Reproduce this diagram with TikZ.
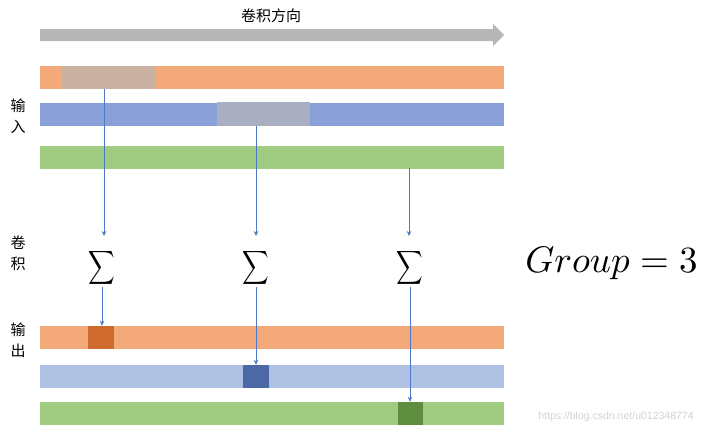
\documentclass[tikz,border=0pt]{standalone}
\usepackage{amsmath}
\usepackage{fontspec}
\newfontfamily\cjk{Noto Sans CJK SC}
\newfontfamily\wmfont{Liberation Sans}
\usetikzlibrary{arrows.meta}
\definecolor{orangebar}{HTML}{F4A97A}
\definecolor{orangewin}{HTML}{C9B2A1}
\definecolor{bluebar}{HTML}{89A1D8}
\definecolor{bluewin}{HTML}{A9AEC0}
\definecolor{greenbar}{HTML}{A0CC81}
\definecolor{bluelight}{HTML}{AEC1E3}
\definecolor{orangedark}{HTML}{CF6A2E}
\definecolor{bluedark}{HTML}{4D69A5}
\definecolor{greendark}{HTML}{5F8D40}
\definecolor{arrowgrey}{HTML}{B6B6B6}
\definecolor{linkblue}{HTML}{4F78C6}
\definecolor{wmgrey}{HTML}{D2D2D2}
\begin{document}
\begin{tikzpicture}[x=1pt,y=-1pt,
  bar/.style={rectangle,draw=none,inner sep=0pt,minimum width=464pt,minimum height=23pt},
  win/.style={rectangle,draw=none,inner sep=0pt,minimum height=23pt},
  cell/.style={rectangle,draw=none,inner sep=0pt,minimum width=26pt,minimum height=23pt},
  lab/.style={font=\cjk\fontsize{15}{21}\selectfont,align=center,inner sep=0pt},
  sig/.style={inner sep=0pt},
  link/.style={draw=linkblue,line width=0.6pt,-{Stealth[length=5pt,width=4.5pt]}}]
\useasboundingbox (0,0) rectangle (714,431);
% direction arrow
\fill[arrowgrey] (40,29) -- (493,29) -- (493,24) -- (504,35) -- (493,46) -- (493,41) -- (40,41) -- cycle;
\node[lab] (dir) at (271,16) {卷积方向};
% input bars
\node[bar,fill=orangebar] (in1) at (272,77.5) {};
\node[win,fill=orangewin,minimum width=94pt] (w1) at (109,77.5) {};
\node[bar,fill=bluebar] (in2) at (272,114.5) {};
\node[win,fill=bluewin,minimum width=93pt,minimum height=24pt] (w2) at (263.5,114) {};
\node[bar,fill=greenbar] (in3) at (272,157) {};
% output bars
\node[bar,fill=orangebar] (out1) at (272,337.5) {};
\node[cell,fill=orangedark] (c1) at (101,337.5) {};
\node[bar,fill=bluelight] (out2) at (272,376.5) {};
\node[cell,fill=bluedark] (c2) at (256,376.5) {};
\node[bar,fill=greenbar] (out3) at (272,413.5) {};
\node[cell,fill=greendark,minimum width=25pt] (c3) at (410.5,413.5) {};
% sigmas
\node[sig] (s1) at (102,268) {\scalebox{1.85}[2.35]{$\displaystyle\sum$}};
\node[sig] (s2) at (256,268) {\scalebox{1.85}[2.35]{$\displaystyle\sum$}};
\node[sig] (s3) at (410,268) {\scalebox{1.85}[2.35]{$\displaystyle\sum$}};
% labels
\node[lab] (lin) at (18,116) {输\\入};
\node[lab] (lconv) at (18,253) {卷\\积};
\node[lab] (lout) at (18,340) {输\\出};
\node[inner sep=0pt] (grp) at (611.5,263) {\scalebox{3.7}{$Group=3$}};
\node[inner sep=0pt,font=\wmfont\fontsize{10.5}{12}\selectfont,text=wmgrey] (wm) at (616,417) {https://blog.csdn.net/u012348774};
% connectors
\coordinate (a1) at (104,89);
\coordinate (a2) at (256,126);
\coordinate (a3) at (409,168);
\draw[link] (a1) -- ([yshift=13pt]a1 |- s1.north);
\draw[link] (a2) -- ([yshift=13pt]a2 |- s2.north);
\draw[link] (a3) -- ([yshift=13pt]a3 |- s3.north);
\draw[link] (s1.south) -- (s1.south |- c1.north);
\draw[link] (s2.south) -- (s2.south |- c2.north);
\draw[link] (s3.south) -- (s3.south |- c3.north);
\end{tikzpicture}
\end{document}
